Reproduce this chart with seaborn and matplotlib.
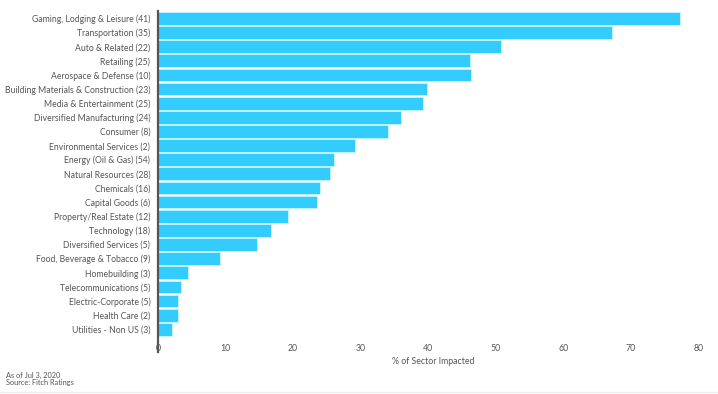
import matplotlib
matplotlib.use('Agg')
import matplotlib.pyplot as plt
import seaborn as sns
import pandas as pd
from matplotlib.lines import Line2D

# Sectors (number of issuers) and share of the sector impacted
sectors = [
    'Gaming, Lodging & Leisure (41)',
    'Transportation (35)',
    'Auto & Related (22)',
    'Retailing (25)',
    'Aerospace & Defense (10)',
    'Building Materials & Construction (23)',
    'Media & Entertainment (25)',
    'Diversified Manufacturing (24)',
    'Consumer (8)',
    'Environmental Services (2)',
    'Energy (Oil & Gas) (54)',
    'Natural Resources (28)',
    'Chemicals (16)',
    'Capital Goods (6)',
    'Property/Real Estate (12)',
    'Technology (18)',
    'Diversified Services (5)',
    'Food, Beverage & Tobacco (9)',
    'Homebuilding (3)',
    'Telecommunications (5)',
    'Electric-Corporate (5)',
    'Health Care (2)',
    'Utilities - Non US (3)',
]
pct_impacted = [77.3, 67.2, 50.8, 46.2, 46.3, 39.8, 39.2, 36.0, 34.0, 29.2, 26.1, 25.4,
                24.0, 23.6, 19.2, 16.8, 14.7, 9.2, 4.4, 3.4, 3.0, 2.9, 2.1]
x_ticks = [0, 10, 20, 30, 40, 50, 60, 70, 80]

df = pd.DataFrame({'Sector': sectors, 'Pct': pct_impacted})

sns.set_style('white')
plt.rcParams['font.family'] = ['Lato', 'DejaVu Sans']

W, H = 718, 394
fig = plt.figure(figsize=(W / 100, H / 100), dpi=100)
ax = fig.add_axes([158 / W, 1 - 352 / H, (698.4 - 158) / W, (352 - 10.7) / H])

sns.barplot(data=df, x='Pct', y='Sector', color='#33ccff', saturation=1,
            width=0.9, edgecolor='#c9f1ff', linewidth=0.6, ax=ax)

ax.set_xlim(0, 80)
ax.set_ylim(23.6, -0.54)
ax.set_xticks(x_ticks)
ax.set_xticklabels([str(t) for t in x_ticks])

for s in ['top', 'right', 'bottom']:
    ax.spines[s].set_visible(False)
ax.spines['left'].set_color('#555555')
ax.spines['left'].set_linewidth(1.6)

ax.tick_params(axis='y', length=0, pad=5.5, labelsize=6.2, labelcolor='#555555')
ax.tick_params(axis='x', length=0, pad=-6, labelsize=6.3, labelcolor='#555555')
ax.set_ylabel('')
ax.set_xlabel('% of Sector Impacted', fontsize=6.3, color='#555555')
ax.xaxis.set_label_coords(0.509, -0.014)
ax.xaxis.label.set_verticalalignment('top')

fig.text(6 / W, 1 - 375 / H, 'As of Jul 3, 2020', fontsize=5.3, color='#555555', va='center')
fig.text(6 / W, 1 - 383 / H, 'Source: Fitch Ratings', fontsize=5.3, color='#555555', va='center')
fig.add_artist(Line2D([0, 1], [1 - 392 / H, 1 - 392 / H], color='#eeeeee', lw=1,
                      transform=fig.transFigure))

fig.savefig('out.png', dpi=100)
